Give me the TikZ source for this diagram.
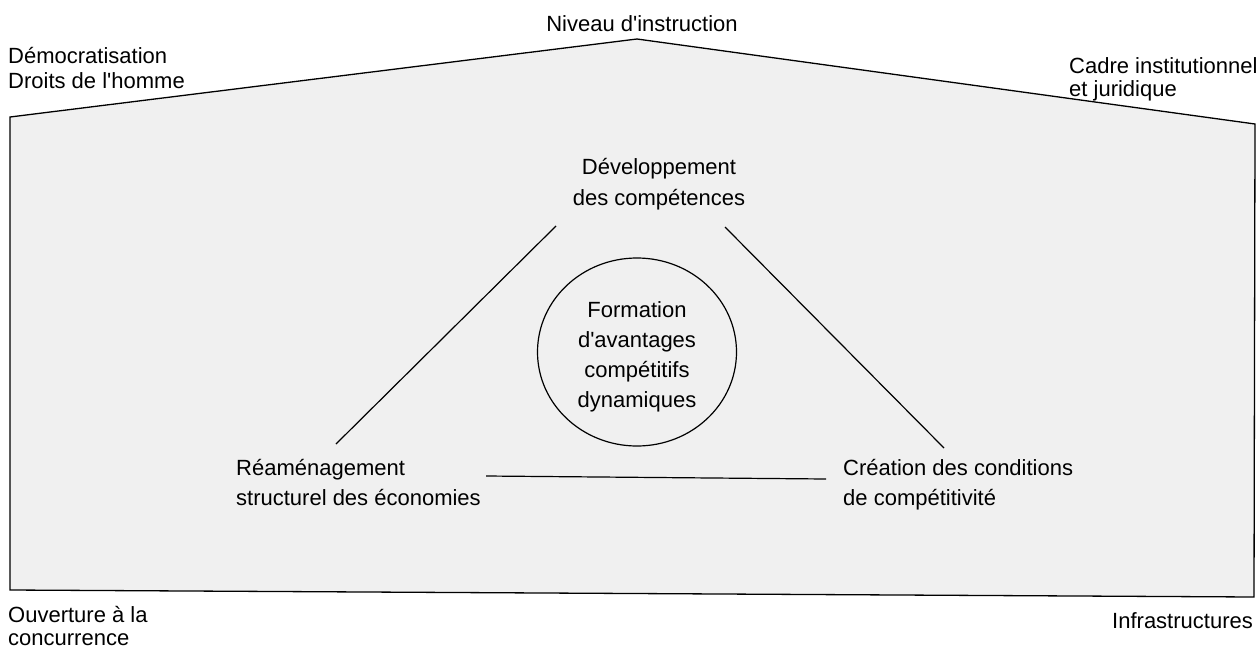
\documentclass[tikz,border=0pt]{standalone}
\usepackage{fontspec}
\setmainfont{Liberation Sans}
\usetikzlibrary{shapes.geometric}
\newcommand{\sq}{\textquotesingle}
\begin{document}
\begin{tikzpicture}[x=1pt,y=-1pt,
  lbl/.style={inner sep=0pt, align=left, font=\fontsize{22}{25}\selectfont},
  lblc/.style={inner sep=0pt, align=center, font=\fontsize{22}{31}\selectfont},
  link/.style={draw=black, line width=1.2pt},
  housefill/.style={draw=black, line width=1.3pt, fill=gray!12, line join=miter}]
\useasboundingbox (0,0) rectangle (1258,648);
% house outline
\coordinate (hl) at (10,117);
\coordinate (ha) at (637,39);
\coordinate (hr) at (1255,124);
\coordinate (hbr) at (1254,597);
\coordinate (hbl) at (10,590);
\path[housefill] (hl) -- (ha) -- (hr) -- (hbr) -- (hbl) -- cycle;
% outer labels (base anchor = baseline of last line)
\node[lbl, anchor=base] (niveau) at (642,31) {Niveau d\sq instruction};
\node[lbl, anchor=base west] (demo) at (8,88) {Démocratisation\\Droits de l\sq homme};
\node[lbl, anchor=base west, font=\fontsize{22}{23}\selectfont] (cadre) at (1069,96) {Cadre institutionnel\\et juridique};
\node[lbl, anchor=base west, font=\fontsize{22}{23}\selectfont] (ouv) at (8,645) {Ouverture à la\\concurrence};
\node[lbl, anchor=base east] (infra) at (1253,628) {Infrastructures};
% inner labels
\node[lblc, anchor=base] (dev) at (659,205) {Développement\\des compétences};
\node[lbl, anchor=base west, font=\fontsize{22}{30}\selectfont] (ream) at (236,505) {Réaménagement\\structurel des économies};
\node[lbl, anchor=base west, font=\fontsize{22}{30}\selectfont] (crea) at (843,505) {Création des conditions\\de compétitivité};
\node[draw=black, line width=1.2pt, ellipse, minimum width=199pt, minimum height=188pt, inner sep=0pt] (core) at (637,352) {};
\node[inner sep=0pt, align=center, font=\fontsize{22}{30}\selectfont, anchor=base] (coretext) at (637,407)
      {Formation\\d\sq avantages\\compétitifs\\dynamiques};
% connector end points
\coordinate (devL) at (556,226);
\coordinate (devR) at (725,227);
\coordinate (reamT) at (336,444);
\coordinate (reamR) at (486,476);
\coordinate (creaT) at (944,448);
\coordinate (creaL) at (826,479);
\draw[link] (devL) -- (reamT);
\draw[link] (devR) -- (creaT);
\draw[link] (reamR) -- (creaL);
\end{tikzpicture}
\end{document}
